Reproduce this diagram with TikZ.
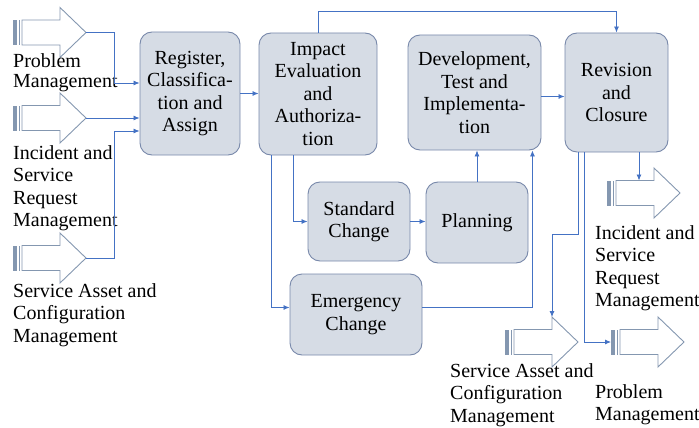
\documentclass[tikz,border=0pt]{standalone}
\usepackage{fontspec}
\setmainfont{Liberation Serif}
\usepackage{xcolor}
\usetikzlibrary{calc,arrows.meta}

\definecolor{boxfill}{HTML}{D6DCE5}
\definecolor{boxline}{HTML}{7888AA}
\definecolor{linkblue}{HTML}{4472C4}
\definecolor{arrline}{HTML}{8497B0}

\tikzset{
	proc/.style={draw=boxline, fill=boxfill, rounded corners=12pt, line width=0.9pt,
		align=center, inner sep=0pt, font=\fontsize{20}{22.5}\selectfont},
	link/.style={draw=linkblue, line width=0.8pt, -{Latex[length=6pt,width=5pt]}},
	lbl/.style={anchor=north west, align=left, inner sep=0pt, font=\fontsize{20}{22.5}\selectfont},
}

% striped block arrow: name, tail x, centre y
\newcommand{\stripedarrow}[3]{%
	\begin{scope}[shift={(#2,#3)}]
		\fill[arrline] (0,-12.5) rectangle (4,12.5);
		\fill[arrline] (5.5,-12.5) rectangle (7,12.5);
		\draw[arrline, line width=0.9pt] (9,-12.5) -- (47,-12.5) -- (47,-25) -- (73,0)
			-- (47,25) -- (47,12.5) -- (9,12.5) -- cycle;
		\coordinate (#1-tail) at (0,0);
		\coordinate (#1-tip) at (73,0);
		\coordinate (#1-head) at (47,-25);
		\coordinate (#1-in) at (32,-12.5);
	\end{scope}}

\begin{document}
\begin{tikzpicture}[x=1pt, y=-1pt]
	\useasboundingbox (0,0) rectangle (699,428);

	\node[proc, minimum width=100pt, minimum height=123pt] (reg) at (190,93.5) {Register,\\Classifica-\\tion and\\Assign};
	\node[proc, minimum width=118pt, minimum height=122pt] (imp) at (318,94) {Impact\\Evaluation\\and\\Authoriza-\\tion};
	\node[proc, minimum width=133pt, minimum height=115pt] (dev) at (474.5,92.5) {Development,\\Test and\\Implementa-\\tion};
	\node[proc, minimum width=103pt, minimum height=119pt] (rev) at (616.5,92.5) {Revision\\and\\Closure};
	\node[proc, minimum width=102pt, minimum height=79pt] (std) at (359,221.5) {Standard\\Change};
	\node[proc, minimum width=102pt, minimum height=81pt] (pla) at (477,222.5) {Planning};
	\node[proc, minimum width=132pt, minimum height=81pt] (emg) at (356,314.5) {Emergency\\Change};

	\stripedarrow{pm1}{13}{32.5}
	\stripedarrow{inc1}{13}{118}
	\stripedarrow{sa1}{13}{258}
	\stripedarrow{inc2}{607}{193}
	\stripedarrow{sa2}{505}{342}
	\stripedarrow{pm2}{611}{342}

	\node[lbl, font=\fontsize{20}{20}\selectfont] (pm1-lbl) at (13,53) {Problem\\Management};
	\node[lbl] (inc1-lbl) at (13,145) {Incident and\\Service\\Request\\Management};
	\node[lbl] (sa1-lbl) at (13,283) {Service Asset and\\Configuration\\Management};
	\node[lbl] (inc2-lbl) at (595,225) {Incident and\\Service\\Request\\Management};
	\node[lbl] (sa2-lbl) at (450,363) {Service Asset and\\Configuration\\Management};
	\node[lbl] (pm2-lbl) at (595,384) {Problem\\Management};

	\draw[link] (pm1-tip) -- ++(28,0) |- ([yshift=10.5pt]reg.west);
	\draw[link] (inc1-tip) -- (inc1-tip -| reg.west);
	\draw[link] (sa1-tip) -- ++(28,0) |- ([yshift=-37.5pt]reg.west);
	\draw[link] (reg.east) -- (reg.east -| imp.west);
	\draw[link] (imp.north) -- ++(0,-21) -| (rev.north);
	\draw[link] ([xshift=35pt]imp.south west) |- (std.west);
	\draw[link] ([xshift=13pt]imp.south west) |- ([yshift=7pt]emg.west);
	\draw[link] (std.east) -- (std.east -| pla.west);
	\draw[link] (pla.north) -- (pla.north |- dev.south);
	\draw[link] ([yshift=7pt]emg.east) -| ([xshift=-9pt]dev.south east);
	\draw[link] ($(dev.east)+(0,4)$) -- ($(dev.east -| rev.west)+(0,4)$);
	\draw[link] (rev.south -| inc2-in) -- (inc2-in);
	\draw[link] ([xshift=14pt]rev.south west) -- ++(0,82) -| (sa2-head);
	\draw[link] ([xshift=20pt]rev.south west) |- (pm2-tail);
\end{tikzpicture}
\end{document}
